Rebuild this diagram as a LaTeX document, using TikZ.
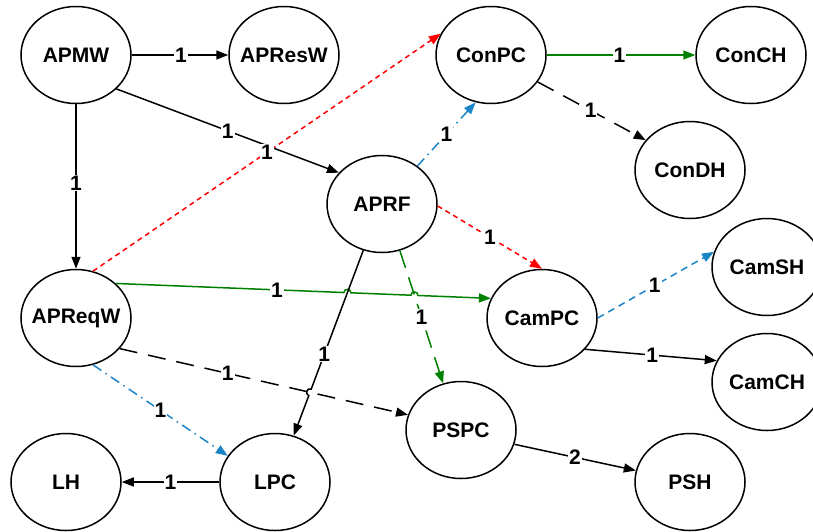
\documentclass[tikz,border=0pt]{standalone}
\usepackage{fontspec}
\setmainfont{Liberation Sans}
\usetikzlibrary{arrows.meta,calc,intersections,shapes.geometric}
\definecolor{cred}{RGB}{255,0,0}
\definecolor{cgreen}{RGB}{0,128,0}
\definecolor{cblue}{RGB}{28,133,199}
\newcommand{\ntxt}[1]{\makebox[0pt]{#1}}
\begin{document}
\begin{tikzpicture}[x=1pt,y=-1pt,
  state/.style={ellipse,draw,line width=1.5pt,minimum width=110pt,minimum height=97pt,inner sep=0pt,
    font=\fontsize{21}{24}\selectfont\bfseries},
  edge/.style={line width=1.5pt,-{Triangle[length=12pt,width=9pt]}},
  lbl/.style={fill=white,inner sep=1pt,font=\fontsize{21}{24}\selectfont\bfseries},
  reddash/.style={edge,cred,dash pattern=on 5pt off 4pt},
  bluedashdot/.style={edge,cblue,dash pattern=on 10pt off 5pt on 1.5pt off 5pt},
  bluedash/.style={edge,cblue,dash pattern=on 7pt off 5pt},
  greenline/.style={edge,cgreen},
  greenlong/.style={edge,cgreen,dash pattern=on 18pt off 10pt},
  blacklong/.style={edge,black,dash pattern=on 18pt off 11pt},
  blackline/.style={edge,black}
]
\clip (0,0) rectangle (813,531);
\fill[white] (0,0) rectangle (813,531);

% nodes
\node[state] (APMW)   at (76,55)   {\ntxt{APMW}};
\node[state] (APResW) at (284,55)  {\ntxt{APResW}};
\node[state] (ConPC)  at (491,55)  {\ntxt{ConPC}};
\node[state] (ConCH)  at (751,55)  {\ntxt{ConCH}};
\node[state] (ConDH)  at (690,170) {\ntxt{ConDH}};
\node[state] (APRF)   at (382,204) {\ntxt{APRF}};
\node[state] (CamSH)  at (767,267) {\ntxt{CamSH}};
\node[state] (APReqW) at (76,318)  {\ntxt{APReqW}};
\node[state] (CamPC)  at (542,318) {\ntxt{CamPC}};
\node[state] (CamCH)  at (767,382) {\ntxt{CamCH}};
\node[state] (PSPC)   at (461,430) {\ntxt{PSPC}};
\node[state] (LH)     at (66,482)  {\ntxt{LH}};
\node[state] (LPC)    at (275,482) {\ntxt{LPC}};
\node[state] (PSH)    at (690,482) {\ntxt{PSH}};

% crossing points for line hops
\path[name path=p9]  (APReqW.41) -- (CamPC.159);
\path[name path=p10] (APRF.-69) -- (PSPC.111);
\path[name path=p11] (APRF.-112) -- (LPC.68);
\path[name path=p12] (APReqW.-35) -- (PSPC.164);
\path[name intersections={of=p9 and p11,by=xa}];
\path[name intersections={of=p9 and p10,by=xb}];
\path[name intersections={of=p11 and p12,by=xc}];
\coordinate (xa1) at ($(xa)!3.5pt!(APReqW.41)$);
\coordinate (xa2) at ($(xa)!3.5pt!(CamPC.159)$);
\coordinate (xb1) at ($(xb)!3.5pt!(APReqW.41)$);
\coordinate (xb2) at ($(xb)!3.5pt!(CamPC.159)$);
\coordinate (xc1) at ($(xc)!3.5pt!(APRF.-112)$);
\coordinate (xc2) at ($(xc)!3.5pt!(LPC.68)$);

% edges
\draw[blackline] (APMW.east) -- (APResW.west);
\draw[blackline] (APMW.-40) -- (APRF.144);
\draw[blackline] (APMW.south) -- (APReqW.north);
\draw[reddash] (APReqW.70) -- (ConPC.157);
\draw[bluedashdot] (APRF.47) -- (ConPC.-108);
\draw[greenline] (ConPC.east) -- (ConCH.west);
\draw[blacklong] (ConPC.-30) -- (ConDH.146);
\draw[reddash] (APRF.-2) -- (CamPC.90);
\draw[greenlong] (APRF.-69) -- (PSPC.111);
\draw[blacklong] (APReqW.-35) -- (PSPC.164);
\draw[greenline] (APReqW.41) -- (xa1)
  .. controls ($(xa1)!4.5pt!90:(xa)$) and ($(xa2)!4.5pt!-90:(xa)$) .. (xa2) -- (xb1)
  .. controls ($(xb1)!4.5pt!90:(xb)$) and ($(xb2)!4.5pt!-90:(xb)$) .. (xb2) -- (CamPC.159);
\draw[blackline] (APRF.-112) -- (xc1)
  .. controls ($(xc1)!4.5pt!-90:(xc)$) and ($(xc2)!4.5pt!90:(xc)$) .. (xc2) -- (LPC.68);
\draw[bluedashdot] (APReqW.-70) -- (LPC.151);
\draw[blackline] (LPC.west) -- (LH.east);
\draw[bluedash] (CamPC.0) -- (CamSH.164);
\draw[blackline] (CamPC.-36) -- (CamCH.157);
\draw[blackline] (PSPC.-15) -- (PSH.168);

% labels
\path (APMW.east) -- node[lbl,pos=0.51]{1} (APResW.west);
\path (APMW.-40) -- node[lbl,pos=0.5]{1} (APRF.144);
\path (APMW.south) -- node[lbl,pos=0.48]{1} (APReqW.north);
\path (APReqW.70) -- node[lbl,pos=0.5]{1} (ConPC.157);
\path (APRF.47) -- node[lbl,pos=0.5]{1} (ConPC.-108);
\path (ConPC.east) -- node[lbl,pos=0.49]{1} (ConCH.west);
\path (ConPC.-30) -- node[lbl,pos=0.49]{1} (ConDH.146);
\path (APRF.-2) -- node[lbl,pos=0.5]{1} (CamPC.90);
\path (APRF.-69) -- node[lbl,pos=0.5]{1} (PSPC.111);
\path (APReqW.-35) -- node[lbl,pos=0.375]{1} (PSPC.164);
\path (APReqW.41) -- node[lbl,pos=0.43]{1} (CamPC.159);
\path (APRF.-112) -- node[lbl,pos=0.56]{1} (LPC.68);
\path (APReqW.-70) -- node[lbl,pos=0.5]{1} (LPC.151);
\path (LPC.west) -- node[lbl,pos=0.5]{1} (LH.east);
\path (CamPC.0) -- node[lbl,pos=0.49]{1} (CamSH.164);
\path (CamPC.-36) -- node[lbl,pos=0.51]{1} (CamCH.157);
\path (PSPC.-15) -- node[lbl,pos=0.5]{2} (PSH.168);
\end{tikzpicture}
\end{document}
